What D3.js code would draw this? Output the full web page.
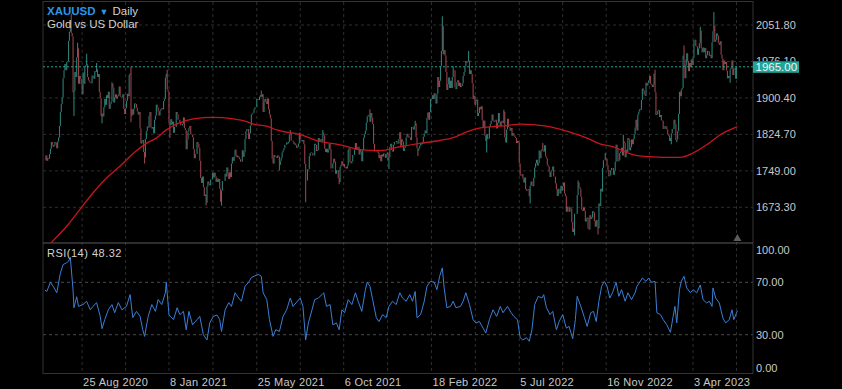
<!DOCTYPE html>
<html>
<head>
<meta charset="utf-8">
<script src="https://cdn.jsdelivr.net/npm/d3@7"></script>
<style>
  html, body { margin: 0; padding: 0; background: #000; }
  svg { display: block; font-family: "Liberation Sans", Arial, sans-serif; }
</style>
</head>
<body>
<div id="chart"></div>
<script>
// Chart data (XAUUSD daily)
const symbol = 'XAUUSD';
const interval = 'Daily';
const description = 'Gold vs US Dollar';
const startDate = '2020-06-29';
const holidays = ['2020-12-25', '2021-01-01', '2022-12-26', '2023-01-02'];
const prevClose = 1771;
const lastPrice = 1965.0;
const lastRsi = 48.32;

// daily closes, one row per month
const closes = [
  1772, 1781,
  1770, 1775, 1774, 1784, 1795, 1809, 1803, 1799, 1802, 1809, 1808, 1796, 1810, 1818, 1842, 1871, 1888, 1902, 1941, 1958, 1971, 1958, 1975,
  1976, 2019, 2038, 2062, 2035, 2028, 1912, 1915, 1954, 1944, 1985, 2003, 1930, 1946, 1940, 1929, 1908, 1953, 1930, 1964, 1968,
  1970, 1944, 1937, 1934, 1932, 1931, 1947, 1946, 1940, 1956, 1954, 1960, 1944, 1950, 1912, 1900, 1863, 1868, 1862, 1881, 1898, 1886,
  1906, 1900, 1913, 1878, 1887, 1893, 1930, 1922, 1891, 1902, 1908, 1899, 1904, 1907, 1924, 1904, 1902, 1902, 1908, 1878, 1867, 1879,
  1894, 1909, 1904, 1948, 1951, 1863, 1877, 1866, 1878, 1889, 1888, 1880, 1872, 1866, 1871, 1837, 1806, 1811, 1813, 1788, 1777,
  1815, 1831, 1841, 1839, 1863, 1871, 1839, 1837, 1840, 1827, 1855, 1864, 1886, 1881, 1872, 1864, 1874, 1877, 1879, 1877, 1894, 1898,
  1943, 1950, 1918, 1913, 1849, 1844, 1856, 1845, 1851, 1828, 1840, 1840, 1871, 1866, 1855, 1855, 1850, 1843, 1843, 1847,
  1860, 1838, 1834, 1794, 1814, 1831, 1838, 1842, 1825, 1824, 1819, 1794, 1775, 1784, 1784, 1809, 1805, 1797, 1770, 1734,
  1724, 1737, 1715, 1697, 1700, 1683, 1717, 1727, 1722, 1719, 1731, 1731, 1745, 1735, 1745, 1738, 1726, 1733, 1726, 1732, 1712, 1685, 1708,
  1728, 1728, 1728, 1743, 1737, 1756, 1744, 1732, 1746, 1736, 1764, 1777, 1770, 1779, 1793, 1783, 1777, 1780, 1777, 1773, 1768, 1768,
  1792, 1778, 1787, 1815, 1831, 1836, 1836, 1815, 1827, 1843, 1866, 1868, 1870, 1877, 1881, 1881, 1898, 1897, 1896, 1903, 1906,
  1903, 1908, 1871, 1891, 1898, 1893, 1888, 1899, 1877, 1866, 1858, 1811, 1774, 1764, 1782, 1778, 1779, 1776, 1781, 1779, 1761, 1770,
  1776, 1787, 1792, 1796, 1803, 1803, 1808, 1806, 1809, 1825, 1829, 1812, 1812, 1810, 1804, 1806, 1802, 1797, 1799, 1806, 1828, 1814,
  1813, 1810, 1813, 1804, 1763, 1729, 1729, 1752, 1753, 1780, 1786, 1787, 1786, 1781, 1781, 1805, 1803, 1790, 1792, 1817, 1810, 1814,
  1815, 1810, 1828, 1823, 1795, 1788, 1795, 1787, 1793, 1805, 1794, 1754, 1754, 1764, 1774, 1768, 1743, 1750, 1750, 1734, 1726, 1757,
  1761, 1769, 1760, 1763, 1756, 1757, 1754, 1760, 1793, 1796, 1767, 1765, 1769, 1782, 1782, 1793, 1807, 1793, 1798, 1799, 1783,
  1793, 1788, 1769, 1793, 1818, 1825, 1832, 1849, 1862, 1865, 1864, 1851, 1869, 1859, 1846, 1805, 1789, 1789, 1792, 1793, 1786, 1775,
  1782, 1769, 1783, 1779, 1785, 1784, 1776, 1783, 1787, 1771, 1777, 1799, 1805, 1792, 1789, 1803, 1809, 1809, 1811, 1805, 1805, 1815, 1829,
  1801, 1814, 1810, 1790, 1797, 1801, 1818, 1826, 1822, 1818, 1819, 1813, 1840, 1839, 1835, 1842, 1848, 1819, 1796, 1791, 1796,
  1801, 1807, 1804, 1808, 1820, 1826, 1833, 1827, 1859, 1870, 1855, 1871, 1898, 1898, 1906, 1898, 1910, 1903, 1889, 1909,
  1944, 1923, 1936, 1966, 1998, 2050, 1991, 2000, 1988, 1954, 1917, 1929, 1943, 1921, 1936, 1921, 1944, 1958, 1958, 1922, 1919, 1933, 1937,
  1925, 1932, 1923, 1925, 1931, 1946, 1954, 1966, 1977, 1974, 1976, 1978, 1950, 1958, 1950, 1931, 1898, 1905, 1886, 1894, 1897,
  1863, 1869, 1881, 1877, 1883, 1855, 1839, 1853, 1822, 1811, 1825, 1815, 1816, 1841, 1846, 1853, 1866, 1853, 1851, 1853, 1855, 1837,
  1848, 1869, 1851, 1842, 1852, 1853, 1848, 1871, 1819, 1808, 1835, 1857, 1840, 1839, 1832, 1838, 1822, 1827, 1823, 1820, 1817, 1807,
  1811, 1808, 1764, 1739, 1739, 1742, 1733, 1725, 1735, 1711, 1708, 1709, 1711, 1696, 1718, 1727, 1719, 1717, 1734, 1756, 1765,
  1772, 1760, 1765, 1791, 1775, 1789, 1794, 1792, 1789, 1802, 1779, 1775, 1761, 1758, 1747, 1736, 1748, 1751, 1758, 1738, 1737, 1723, 1711,
  1697, 1712, 1710, 1702, 1718, 1708, 1717, 1725, 1702, 1697, 1664, 1675, 1675, 1664, 1673, 1671, 1643, 1622, 1629, 1660, 1660, 1660,
  1699, 1725, 1716, 1712, 1695, 1668, 1666, 1673, 1666, 1644, 1650, 1652, 1629, 1627, 1657, 1649, 1652, 1665, 1663, 1645, 1633,
  1647, 1635, 1630, 1681, 1676, 1712, 1706, 1755, 1771, 1771, 1776, 1774, 1761, 1751, 1738, 1740, 1750, 1755, 1755, 1741, 1749, 1768,
  1803, 1797, 1769, 1771, 1786, 1789, 1797, 1781, 1810, 1807, 1777, 1793, 1788, 1817, 1814, 1792, 1798, 1814, 1804, 1815, 1824,
  1839, 1855, 1833, 1866, 1872, 1877, 1876, 1896, 1920, 1916, 1908, 1905, 1932, 1926, 1931, 1937, 1946, 1930, 1928, 1923, 1928,
  1951, 1912, 1865, 1867, 1873, 1875, 1861, 1865, 1854, 1853, 1836, 1836, 1842, 1841, 1835, 1825, 1822, 1811, 1817, 1827,
  1836, 1836, 1855, 1847, 1813, 1814, 1831, 1867, 1913, 1904, 1918, 1921, 1988, 1980, 1941, 1969, 1993, 1977, 1956, 1973, 1964, 1980, 1969,
  1984, 2020, 2021, 2008, 2007, 1990, 2003, 2014, 2040, 2004, 1995, 2005, 1995, 2004, 1983, 1989, 1998, 1997, 1988, 1990,
  1983, 2016, 2039, 2050, 2017, 2021, 2034, 2030, 2015, 2011, 2018, 1990, 1982, 1958, 1978, 1971, 1975, 1957, 1941, 1946, 1943, 1960, 1963,
  1978, 1948, 1961, 1963, 1940, 1965, 1965
];

// notable wick extremes [date, price]
const wickHighs = [
  ['2020-08-07', 2075], ['2020-08-18', 2015], ['2020-09-01', 1992], ['2020-09-16', 1973],
  ['2020-10-09', 1933], ['2020-11-09', 1965], ['2021-01-06', 1959], ['2021-06-01', 1916],
  ['2021-07-15', 1834], ['2021-09-03', 1834], ['2021-11-16', 1877], ['2022-01-25', 1853],
  ['2022-03-08', 2070], ['2022-03-24', 1966], ['2022-04-18', 1998], ['2022-06-10', 1876],
  ['2022-08-10', 1807], ['2022-10-04', 1729], ['2022-11-15', 1786], ['2022-12-13', 1824],
  ['2023-02-02', 1959], ['2023-03-20', 2009], ['2023-04-13', 2048], ['2023-05-04', 2079]
];
const wickLows = [
  ['2020-08-12', 1863], ['2020-09-24', 1848], ['2020-11-09', 1850], ['2020-11-30', 1764],
  ['2021-01-11', 1817], ['2021-03-08', 1677], ['2021-03-31', 1677], ['2021-06-29', 1750],
  ['2021-08-09', 1684], ['2021-09-29', 1721], ['2021-12-15', 1753], ['2022-01-28', 1780],
  ['2022-05-16', 1787], ['2022-07-21', 1681], ['2022-09-28', 1615], ['2022-11-03', 1617],
  ['2023-02-28', 1804], ['2023-03-08', 1809], ['2023-05-30', 1932]
];

// moving average (red line) [bar, value]
const smaPoints = [
  [0, 1585], [7, 1600], [24, 1634], [39, 1670], [53, 1703], [68, 1734], [83, 1759], [98, 1786],
  [112, 1806], [123, 1817], [134, 1834], [149, 1849], [164, 1857], [186, 1860], [208, 1857],
  [223, 1851], [230, 1846], [245, 1842], [256, 1834], [260, 1832], [282, 1824], [304, 1810],
  [326, 1803], [348, 1793], [370, 1791], [392, 1799], [414, 1806], [436, 1812], [451, 1818],
  [466, 1830], [481, 1838], [495, 1841], [510, 1843], [525, 1846], [554, 1842], [584, 1827],
  [599, 1817], [613, 1805], [628, 1799], [643, 1787], [657, 1780], [672, 1778], [687, 1777],
  [702, 1777], [716, 1786], [731, 1803], [746, 1824], [765, 1841]
];

// RSI(14) [bar, value]
const rsiPoints = [
  [0,64],[2,63],[6,70],[9,67],[13,62],[17,77],[20,83.5],[24,85],[26,86],[28,89],[31,64],[32,50.6],
  [35,59],[37,51.6],[42,53],[46,55.5],[50,49],[53,51.6],[57,54.5],[61,44],[63,34.6],[66,41.5],
  [70,49],[74,53],[77,46.8],[81,54.5],[85,49],[90,51.6],[94,60.6],[97,43],[101,47.8],[105,44],
  [108,33.8],[110,28.7],[114,44],[118,53],[122,47.8],[125,56.8],[129,53],[133,62],[134,70],
  [137,45.3],[142,41.5],[146,50.6],[149,45.3],[153,47.8],[156,33.8],[159,47.8],[163,37.6],
  [168,41.5],[171,44],[175,30],[179,26],[182,39],[186,44],[190,45],[193,41.5],[195,32.5],
  [199,49],[203,54.5],[206,51.6],[210,62],[214,58],[217,55.5],[221,67],[225,70],[228,73.6],
  [232,75],[236,76],[239,74.6],[241,62],[245,56.8],[248,41.5],[252,28.7],[255,33.8],[259,32.5],
  [263,44],[267,49],[271,58],[274,51.6],[282,58],[285,51.6],[288,26],[291,39],[295,49],
  [298,56.8],[302,58],[306,60.6],[308,62],[311,51.6],[315,53],[318,37.6],[322,39],[325,33.8],
  [328,49],[331,46.8],[335,56.8],[339,53],[343,62],[346,55.5],[350,47.8],[354,64.4],[356,70],
  [359,67],[362,56.8],[366,43],[369,40],[373,45.3],[377,43],[380,51.6],[384,55.5],[388,53],
  [392,62],[395,58],[399,55.5],[403,60.6],[406,55.5],[409,63],[411,43],[415,45.3],[419,55.5],
  [422,67],[426,70.7],[430,70],[433,64.4],[436,74.6],[439,81],[441,65.7],[444,50.6],[448,51.6],
  [451,55.5],[454,50.6],[459,51.6],[462,55.5],[465,62],[469,53],[473,41.5],[476,39],[480,40],
  [484,35],[487,31.3],[491,41.5],[495,49],[499,44],[503,51.6],[506,46.8],[511,51.6],[515,46.8],
  [518,44],[522,41.5],[525,27.7],[528,26],[532,27.7],[535,25],[538,33.8],[541,53],[545,59.3],
  [549,58],[551,60.6],[554,50.6],[558,45.3],[561,47.8],[565,33.8],[568,40],[572,45.3],[576,35],
  [579,36.3],[583,27],[586,41.5],[588,59.3],[592,51.6],[596,43],[599,36.3],[603,46.8],[606,47.8],
  [609,40],[612,55.5],[615,67],[618,70.7],[621,67],[624,58],[627,62],[631,70],[634,59.3],
  [637,64.4],[641,55.5],[644,62],[648,56.8],[652,62],[654,67],[657,70],[660,73.3],[664,70.7],
  [667,73.3],[670,70],[674,70.7],[676,46.8],[680,45.3],[683,41.5],[687,37.6],[691,31.8],[694,44],
  [696,51.6],[698,39],[701,64.4],[703,70.7],[706,74.6],[709,65.7],[713,62],[716,64.4],[720,62],
  [724,68],[727,56.8],[731,54.2],[734,55.5],[737,51.6],[738,65.7],[741,58],[745,54.2],[749,42.7],
  [752,39],[756,41.5],[759,49],[761,41.5],[765,48.32]
];

const priceTicks = [2051.8, 1976.1, 1900.4, 1824.7, 1749.0, 1673.3];
const rsiTicks = [100, 70, 30, 0];
const rsiGuides = [70, 30];
const dateTicks = ['2020-08-25', '2021-01-08', '2021-05-25', '2021-10-06', '2022-02-18', '2022-07-05', '2022-11-16', '2023-04-03'];

// Layout
const width = 842;
const height = 389;
const left = 43;
const right = 753;
const priceTop = 2;
const priceBottom = 243;
const rsiBottom = 374;

const parseDay = d3.utcParse('%Y-%m-%d');
const fmtKey = d3.utcFormat('%Y-%m-%d');
const fmtTick = d3.utcFormat('%-d %b %Y');

// trading calendar: weekdays without the closed days
const dates = [];
let day = parseDay(startDate);
while (dates.length < closes.length) {
  const dow = day.getUTCDay();
  if (dow !== 0 && dow !== 6 && !holidays.includes(fmtKey(day))) dates.push(fmtKey(day));
  day = d3.utcDay.offset(day, 1);
}
const indexOf = new Map(dates.map((d, i) => [d, i]));
const hiMap = new Map(wickHighs);
const loMap = new Map(wickLows);

const bars = closes.map((c, i) => {
  const o = i === 0 ? prevClose : closes[i - 1];
  let hi = Math.max(o, c);
  let lo = Math.min(o, c);
  if (hiMap.has(dates[i])) hi = Math.max(hi, hiMap.get(dates[i]));
  if (loMap.has(dates[i])) lo = Math.min(lo, loMap.get(dates[i]));
  return { i, o, c, hi, lo };
});

const x = d3.scaleLinear().domain([0, closes.length - 1]).range([45, 737.4]);
const y = d3.scaleLinear().domain([1673.3, 2051.8]).range([207.3, 25]);
const yRsi = d3.scaleLinear().domain([0, 100]).range([rsiBottom, priceBottom]);

const svg = d3.select('#chart')
  .append('svg')
  .attr('width', width)
  .attr('height', height)
  .style('background', '#000');

const tagY = y(lastPrice);

const defs = svg.append('defs');
defs.append('clipPath').attr('id', 'clip-price')
  .append('rect').attr('x', left).attr('y', priceTop).attr('width', right - left).attr('height', priceBottom - priceTop);
defs.append('clipPath').attr('id', 'clip-rsi')
  .append('rect').attr('x', left).attr('y', priceBottom).attr('width', right - left).attr('height', rsiBottom - priceBottom);
// the price tag hides the lower part of the axis label next to it
defs.append('clipPath').attr('id', 'clip-axis')
  .append('path')
  .attr('d', `M${right},0H${width}V${tagY - 5.5}H${right}Z M${right},${tagY + 6}H${width}V${height}H${right}Z`);

// vertical grid: labelled ticks plus one halfway between each
const tickX = dateTicks.map((d) => x(indexOf.get(d)));
const gridX = [];
tickX.forEach((t, k) => {
  gridX.push(t);
  const next = k < tickX.length - 1 ? tickX[k + 1] : t + (t - tickX[k - 1]);
  gridX.push((t + next) / 2);
});
const grid = svg.append('g').attr('stroke', '#2e2e2e').attr('stroke-dasharray', '3,3');
grid.selectAll('.vg').data(gridX.filter((g) => g > left && g < right)).enter()
  .append('line')
  .attr('x1', (d) => d).attr('x2', (d) => d)
  .attr('y1', priceTop).attr('y2', rsiBottom);
grid.selectAll('.hg').data(priceTicks).enter()
  .append('line')
  .attr('x1', left).attr('x2', right)
  .attr('y1', (d) => y(d)).attr('y2', (d) => y(d));
grid.selectAll('.rg').data(rsiGuides).enter()
  .append('line')
  .attr('stroke', '#4a4a4a')
  .attr('x1', left).attr('x2', right)
  .attr('y1', (d) => yRsi(d)).attr('y2', (d) => yRsi(d));

// frame
svg.append('rect')
  .attr('x', left).attr('y', priceTop - 0.5)
  .attr('width', right - left).attr('height', rsiBottom - priceTop)
  .attr('fill', 'none').attr('stroke', '#333');
svg.append('line')
  .attr('x1', left).attr('x2', right)
  .attr('y1', priceBottom).attr('y2', priceBottom)
  .attr('stroke', '#5a5a5a');

// candles
svg.append('g').attr('clip-path', 'url(#clip-price)')
  .selectAll('line').data(bars).enter()
  .append('line')
  .attr('x1', (d) => x(d.i)).attr('x2', (d) => x(d.i))
  .attr('y1', (d) => y(d.hi)).attr('y2', (d) => y(d.lo))
  .attr('stroke', (d) => (d.c >= d.o ? '#2b7f77' : '#98434a'))
  .attr('stroke-width', 1.1);

// moving average
svg.append('path')
  .datum(smaPoints)
  .attr('clip-path', 'url(#clip-price)')
  .attr('fill', 'none')
  .attr('stroke', '#c8141f')
  .attr('stroke-width', 1.3)
  .attr('d', d3.line().x((d) => x(d[0])).y((d) => y(d[1])).curve(d3.curveMonotoneX));

// last price line
svg.append('line')
  .attr('x1', left).attr('x2', right)
  .attr('y1', tagY).attr('y2', tagY)
  .attr('stroke', '#26a69a')
  .attr('stroke-dasharray', '2,2');

// small marker at the last bar
const mx = x(closes.length - 1);
svg.append('path')
  .attr('d', `M${mx - 4},${priceBottom - 2}L${mx},${priceBottom - 9}L${mx + 4},${priceBottom - 2}Z`)
  .attr('fill', '#5c5c5c');

// RSI line
svg.append('path')
  .datum(rsiPoints)
  .attr('clip-path', 'url(#clip-rsi)')
  .attr('fill', 'none')
  .attr('stroke', '#3b7fd6')
  .attr('stroke-width', 1)
  .attr('d', d3.line().x((d) => x(d[0])).y((d) => yRsi(d[1])));

// titles
const title = svg.append('text').attr('x', 47).attr('y', 14.5).attr('font-size', 11.5);
title.append('tspan').attr('fill', '#2a96e8').attr('font-weight', 'bold').text(symbol);
title.append('tspan').attr('fill', '#2a96e8').attr('font-size', 9).attr('dx', 4).text('▼');
title.append('tspan').attr('fill', '#d2d2d2').attr('dx', 4).text(interval);
svg.append('text').attr('x', 47).attr('y', 27.5).attr('font-size', 11.5)
  .attr('fill', '#d2d2d2').text(description);
svg.append('text').attr('x', 47).attr('y', 256.5).attr('font-size', 11)
  .attr('fill', '#d2d2d2').attr('letter-spacing', 0.5)
  .text(`RSI(14) ${lastRsi.toFixed(2)}`);

// right axis labels
const axisText = svg.append('g').attr('font-size', 11).attr('fill', '#c8c8c8');
axisText.append('g').attr('clip-path', 'url(#clip-axis)')
  .selectAll('text').data(priceTicks).enter()
  .append('text')
  .attr('x', 756).attr('y', (d) => y(d)).attr('dy', '0.35em')
  .text((d) => d.toFixed(2));
axisText.selectAll('.rt').data(rsiTicks).enter()
  .append('text')
  .attr('x', 756)
  .attr('y', (d) => Math.min(Math.max(yRsi(d), priceBottom + 7), rsiBottom - 6))
  .attr('dy', '0.35em')
  .text((d) => d.toFixed(2));

// bottom date labels
axisText.selectAll('.dt').data(dateTicks).enter()
  .append('text')
  .attr('x', (d) => x(indexOf.get(d)) + 1)
  .attr('y', 386)
  .attr('letter-spacing', 0.3)
  .text((d) => fmtTick(parseDay(d)));

// last price tag
svg.append('rect')
  .attr('x', right).attr('y', tagY - 5.5)
  .attr('width', 46).attr('height', 11.5)
  .attr('fill', '#22a397');
svg.append('text')
  .attr('x', 755.5).attr('y', tagY).attr('dy', '0.36em')
  .attr('font-size', 11.5).attr('fill', '#f2f2f2')
  .text(lastPrice.toFixed(2));
</script>
</body>
</html>
